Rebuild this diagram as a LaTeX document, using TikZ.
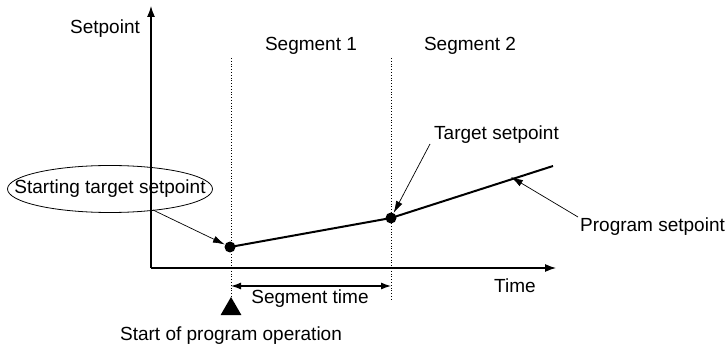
\documentclass[tikz,border=0pt]{standalone}
\usepackage{fontspec}
\setmainfont{Liberation Sans}
\usetikzlibrary{arrows.meta,shapes.geometric}
\begin{document}
\begin{tikzpicture}[x=1pt,y=-1pt,
  lbl/.style={font=\fontsize{19}{21}\selectfont, inner sep=0pt},
  axis/.style={line width=1.2pt, -{Latex[length=11pt,width=8pt]}},
  guide/.style={dotted, line width=0.8pt},
  pt/.style={circle, fill=black, inner sep=0pt, minimum size=11pt},
  callout/.style={line width=0.7pt, -{Latex[length=12pt,width=7pt]}},
  prog/.style={line width=2pt}]
\useasboundingbox (0,0) rectangle (725,347);
% axes
\coordinate (o) at (151,268);
\coordinate (ytop) at (151,6);
\coordinate (xend) at (556,268);
\draw[axis] (o) -- (ytop);
\draw[axis] (o) -- (xend);
\node[lbl] (ylab) at (105,29) {Setpoint};
\node[lbl] (xlab) at (515,286) {Time};
% guides
\coordinate (g1t) at (231,58); \coordinate (g1b) at (231,297);
\coordinate (g2t) at (391,58); \coordinate (g2b) at (391,300);
\draw[guide] (g1t) -- (g1b);
\draw[guide] (g2t) -- (g2b);
\node[lbl] (s1) at (311,46) {Segment 1};
\node[lbl] (s2) at (470,46) {Segment 2};
% program line
\node[pt] (p1) at (230,247) {};
\node[pt] (p2) at (391,218) {};
\coordinate (pend) at (553,166);
\draw[prog] (p1.center) -- (p2.center) -- (pend);
% starting ellipse
\node[lbl] (st) at (110,189) {Starting target setpoint};
\draw[line width=0.8pt] (st.center) ellipse [x radius=102.5, y radius=23.5];
\coordinate (sta) at (153,210);
\draw[callout] (sta) -- (p1);
% target setpoint
\node[lbl, anchor=west] (ts) at (434,135) {Target setpoint};
\coordinate (tsa) at (430,144);
\draw[callout] (tsa) -- (p2);
% program setpoint
\node[lbl, anchor=west] (ps) at (580,227) {Program setpoint};
\coordinate (psa) at (578,217);
\coordinate (psb) at (511,177);
\draw[callout] (psa) -- (psb);
% segment time
\coordinate (sa) at (231,286); \coordinate (sb) at (391,286);
\draw[line width=1.2pt, {Latex[length=10pt,width=7pt]}-{Latex[length=10pt,width=7pt]}] (sa) -- (sb);
\node[lbl] (stime) at (310,299) {Segment time};
% start marker
\node[isosceles triangle, isosceles triangle apex angle=60, shape border rotate=90, fill=black, inner sep=0pt, minimum height=18pt] (tri) at (231,309) {};
\node[lbl] (sop) at (231,336) {Start of program operation};
\end{tikzpicture}
\end{document}
